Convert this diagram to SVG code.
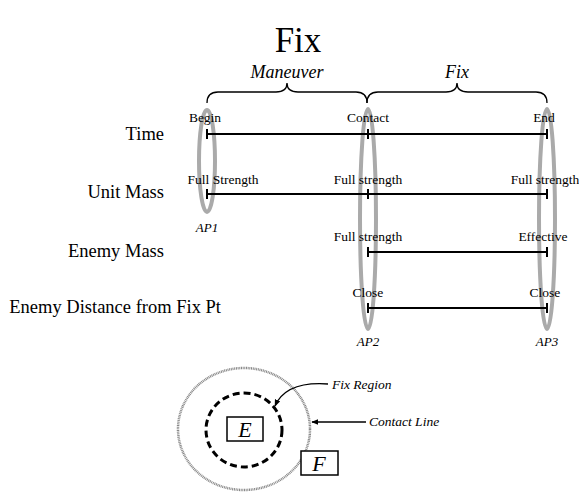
<svg xmlns="http://www.w3.org/2000/svg" width="579" height="493" viewBox="0 0 579 493">
<defs>
<style>
text{font-family:"Liberation Serif","Times New Roman",serif;fill:#000}
.title{font-size:35px;text-anchor:middle}
.row{font-size:18.5px;text-anchor:end}
.lbl{font-size:13.5px;text-anchor:middle}
.phase{font-size:18px;text-anchor:middle;font-style:italic}
.ap{font-size:13px;text-anchor:middle;font-style:italic}
.ann{font-size:13.5px;font-style:italic}
.box{font-size:22px;font-style:italic;text-anchor:middle}
.tl{stroke:#000;stroke-width:2;fill:none}
.brace{stroke:#000;stroke-width:1.3;fill:none}
.apel{stroke:#aaa;stroke-width:4;fill:none}
</style>
<marker id="ah" viewBox="0 0 10 10" refX="9" refY="5" markerWidth="7" markerHeight="7" orient="auto" markerUnits="userSpaceOnUse">
<path d="M0,1 L10,5 L0,9 Z" fill="#000"/>
</marker>
</defs>
<rect width="579" height="493" fill="#fff"/>
<text class="title" x="298" y="52">Fix</text>

<g id="braces">
<path class="brace" d="M207,103 Q207,92 218,92 L276,92 Q287,92 287,83 Q287,92 298,92 L356,92 Q367,92 367,103"/>
<path class="brace" d="M367,103 Q367,92 378,92 L446,92 Q457,92 457,83 Q457,92 468,92 L536,92 Q547,92 547,103"/>
<text class="phase" x="287" y="78">Maneuver</text>
<text class="phase" x="457" y="78">Fix</text>
</g>

<g id="ap1"><ellipse class="apel" cx="207" cy="161" rx="8" ry="51"/><text class="ap" x="207" y="232">AP1</text></g>
<g id="ap2"><ellipse class="apel" cx="368" cy="219" rx="8" ry="110"/><text class="ap" x="368" y="346">AP2</text></g>
<g id="ap3"><ellipse class="apel" cx="547" cy="219" rx="8" ry="110"/><text class="ap" x="547" y="346">AP3</text></g>

<g id="row-time">
<text class="row" x="164" y="140">Time</text>
<path class="tl" d="M207,134 H547 M207,129 V139 M368,129 V139 M547,129 V139"/>
<text class="lbl" x="205" y="122">Begin</text>
<text class="lbl" x="368" y="122">Contact</text>
<text class="lbl" x="544" y="122">End</text>
</g>
<g id="row-unit">
<text class="row" x="164" y="198">Unit Mass</text>
<path class="tl" d="M207,194 H547 M207,189 V199 M368,189 V199 M547,189 V199"/>
<text class="lbl" x="223" y="184">Full Strength</text>
<text class="lbl" x="368" y="184">Full strength</text>
<text class="lbl" x="545" y="184">Full strength</text>
</g>
<g id="row-enemy">
<text class="row" x="164" y="257">Enemy Mass</text>
<path class="tl" d="M368,252 H547 M368,247 V257 M547,247 V257"/>
<text class="lbl" x="368" y="241">Full strength</text>
<text class="lbl" x="543" y="241">Effective</text>
</g>
<g id="row-dist">
<text class="row" x="221" y="313">Enemy Distance from Fix Pt</text>
<path class="tl" d="M368,308 H547 M368,303 V313 M547,303 V313"/>
<text class="lbl" x="368" y="297">Close</text>
<text class="lbl" x="545" y="297">Close</text>
</g>

<g id="contact-line"><ellipse cx="244" cy="429" rx="66" ry="61" fill="none" stroke="#888" stroke-width="2.5" stroke-dasharray="1 0.7"/></g>
<g id="fix-region"><ellipse cx="244" cy="430" rx="38" ry="37" fill="none" stroke="#000" stroke-width="3" stroke-dasharray="7 4"/></g>
<g id="E"><rect x="227" y="417" width="36" height="24" fill="#fff" stroke="#000" stroke-width="1.5"/><text class="box" x="245" y="437">E</text></g>
<g id="F"><rect x="301" y="451" width="37" height="24" fill="#fff" stroke="#000" stroke-width="1.5"/><text class="box" x="319" y="471">F</text></g>

<g id="connectors">
<path d="M328,384 Q286,381 275,406" fill="none" stroke="#000" stroke-width="1.3" marker-end="url(#ah)"/>
<path d="M366,422 H312" fill="none" stroke="#000" stroke-width="1.3" marker-end="url(#ah)"/>
</g>
<text class="ann" x="332" y="389">Fix Region</text>
<text class="ann" x="369" y="426">Contact Line</text>
</svg>
